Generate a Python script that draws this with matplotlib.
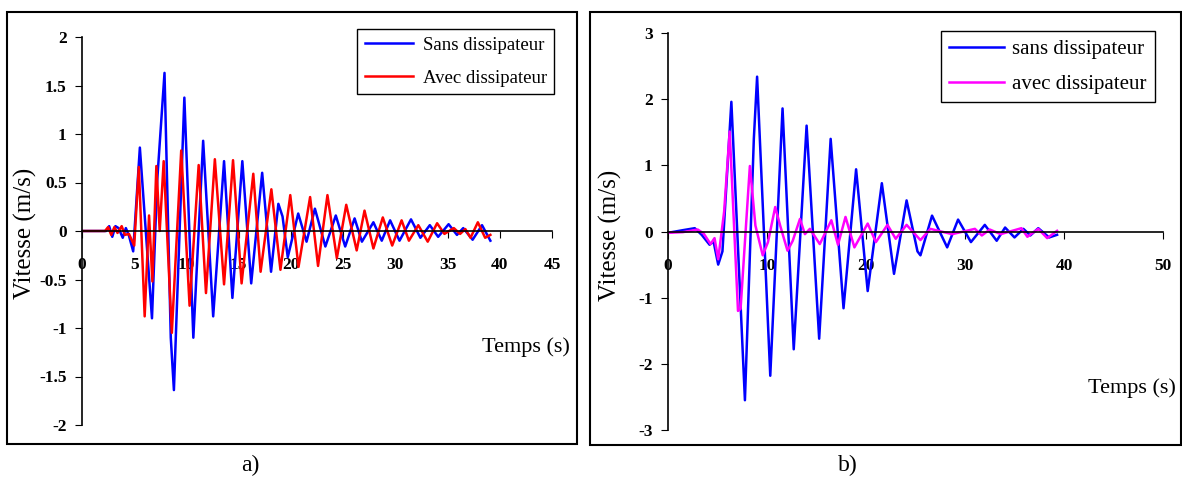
import numpy as np
import matplotlib
matplotlib.use("Agg")
import matplotlib.pyplot as plt
from matplotlib.patches import Rectangle

plt.rcParams['font.family'] = ['Liberation Serif', 'DejaVu Serif']

# panel a) (time s, velocity m/s)
t_a_sans = [0, 2.3, 2.6, 2.9, 3.2, 3.5, 3.9, 4.2, 4.5, 4.9, 5.54, 6.7, 7.2, 7.9, 8.5, 8.8,
            9.8, 10.66, 11.6, 12.56, 13.6, 14.4, 15.35, 16.2, 17.25, 18.1, 18.8, 19.2,
            19.7, 20.7, 21.5, 22.3, 23.3, 24.3, 25.2, 26.1, 26.8, 27.9, 28.7, 29.5,
            30.4, 31.5, 32.4, 33.3, 34.1, 35.1, 35.9, 36.5, 37.4, 38.3, 39.1]
v_a_sans = [0, 0, 0.05, -0.06, 0.05, 0.03, -0.07, 0.03, -0.05, -0.21, 0.86, -0.9, 0.52, 1.63, -1.1, -1.64,
            1.375, -1.1, 0.93, -0.88, 0.72, -0.69, 0.72, -0.54, 0.6, -0.42, 0.28, 0.15,
            -0.27, 0.18, -0.11, 0.23, -0.16, 0.16, -0.16, 0.13, -0.11, 0.09, -0.1, 0.11,
            -0.1, 0.12, -0.07, 0.06, -0.06, 0.07, -0.04, 0.03, -0.09, 0.06, -0.1]
t_a_avec = [0, 2.2, 2.5, 2.8, 3.1, 3.4, 3.8, 4.1, 4.5, 5.0, 5.44, 6.0, 6.42, 6.74, 7.12, 7.44,
            7.82, 8.6, 9.5, 10.3, 11.17, 11.87, 12.72, 13.6, 14.46, 15.28, 16.4, 17.1,
            18.13, 19.0, 19.94, 20.73, 21.84, 22.6, 23.5, 24.4, 25.3, 26.3, 27.05, 27.9,
            28.8, 29.7, 30.6, 31.3, 32.2, 33.1, 34.0, 34.7, 35.6, 36.2, 36.7, 37.2,
            37.9, 38.6, 39.1]
v_a_avec = [0, 0, 0.04, -0.04, 0.04, -0.02, 0.05, -0.04, -0.03, -0.15, 0.66, -0.88, 0.16, -0.52, 0.67, 0.0,
            0.72, -1.05, 0.83, -0.77, 0.68, -0.64, 0.74, -0.55, 0.73, -0.54, 0.59, -0.42,
            0.43, -0.4, 0.37, -0.37, 0.35, -0.36, 0.37, -0.28, 0.27, -0.2, 0.21, -0.18,
            0.14, -0.15, 0.11, -0.1, 0.06, -0.11, 0.08, -0.03, 0.03, -0.03, 0.02, -0.07,
            0.09, -0.07, -0.04]

# panel b)
t_b_sans = [0, 1.5, 2.7, 3.4, 4.2, 4.6, 5.07, 5.5, 6.4, 7.77, 8.67, 9.0, 10.33, 11.57, 12.7,
            14.0, 15.27, 16.43, 17.73, 19.0, 20.17, 21.6, 22.83, 24.1, 25.2, 25.5,
            26.67, 28.2, 29.3, 30.6, 32.0, 33.2, 34.05, 35.0, 35.9, 36.6, 37.4, 38.5, 39.3]
v_b_sans = [-0.02, 0.02, 0.05, -0.05, -0.2, -0.15, -0.5, -0.3, 1.96, -2.55, 1.4, 2.34, -2.18, 1.86, -1.78,
            1.6, -1.62, 1.4, -1.16, 0.94, -0.9, 0.73, -0.64, 0.47, -0.3, -0.36,
            0.24, -0.24, 0.18, -0.16, 0.1, -0.14, 0.06, -0.09, 0.04, -0.06, 0.05, -0.09, -0.05]
t_b_avec = [0, 1.5, 3.0, 3.6, 4.3, 4.7, 5.07, 5.67, 6.23, 7.07, 7.33, 8.27, 8.83, 9.57, 10.1,
            10.83, 11.33, 12.07, 12.6, 13.33, 13.83, 14.33, 15.33, 16.5, 17.17, 17.93,
            18.83, 20.17, 21.0, 22.17, 23.0, 24.1, 25.5, 26.5, 28.7, 31.0, 31.7, 32.5,
            33.6, 35.7, 36.3, 37.4, 38.3, 39.3]
v_b_avec = [-0.02, -0.01, 0.03, -0.03, -0.19, -0.1, -0.42, 0.3, 1.51, -1.2, -1.17, 0.99, 0.09, -0.36, -0.16,
            0.37, 0.09, -0.29, -0.14, 0.19, -0.04, 0.04, -0.19, 0.17, -0.2, 0.22,
            -0.24, 0.12, -0.16, 0.1, -0.11, 0.1, -0.13, 0.04, -0.04, 0.04, -0.06, 0.03,
            -0.04, 0.05, -0.08, 0.04, -0.1, 0.01]

W, H = 1182, 479
fig = plt.figure(figsize=(W / 100, H / 100), dpi=100)


def fx(px):
    return px / W


def fy(py):
    return 1 - py / H


def setup(ax, xmax, xstep, ymax, ystep):
    ax.set_xlim(0, xmax)
    ax.set_ylim(-ymax, ymax)
    ax.spines['top'].set_visible(False)
    ax.spines['right'].set_visible(False)
    ax.spines['bottom'].set_position(('data', 0))
    ax.spines['left'].set_linewidth(1.2)
    ax.spines['bottom'].set_linewidth(1.2)
    ax.set_xticks(np.arange(0, xmax + 0.1, xstep))
    ax.set_yticks(np.arange(-ymax, ymax + 0.01, ystep))
    ax.set_yticklabels([f"{v:g}" for v in ax.get_yticks()])
    ax.tick_params(axis='x', direction='out', length=5, pad=14, labelsize=12.5)
    ax.tick_params(axis='y', direction='out', length=5, pad=6, labelsize=12.5)
    for lb in ax.get_xticklabels() + ax.get_yticklabels():
        lb.set_fontweight('bold')
    ax.patch.set_alpha(0)


# panel a
ax1 = fig.add_axes([fx(82), fy(425), fx(552) - fx(82), fy(37) - fy(425)])
setup(ax1, 45, 5, 2, 0.5)
ax1.plot(t_a_sans, v_a_sans, color='#0000ff', lw=1.8, label='Sans dissipateur')
ax1.plot(t_a_avec, v_a_avec, color='#ff0000', lw=1.8, label='Avec dissipateur')
ax1.legend(loc='upper left', bbox_to_anchor=(fx(357), fy(29)), bbox_transform=fig.transFigure,
           borderaxespad=0, fancybox=False, edgecolor='black', framealpha=1, fontsize=13.5,
           handlelength=2.6, handletextpad=0.5, labelspacing=0.85).get_frame().set_linewidth(1.0)

# panel b
ax2 = fig.add_axes([fx(668), fy(430), fx(1163) - fx(668), fy(33) - fy(430)])
setup(ax2, 50, 10, 3, 1)
ax2.plot(t_b_sans, v_b_sans, color='#0000ff', lw=1.8, label='sans dissipateur')
ax2.plot(t_b_avec, v_b_avec, color='#ff00ff', lw=1.8, label='avec dissipateur')
ax2.legend(loc='upper left', bbox_to_anchor=(fx(941), fy(31)), bbox_transform=fig.transFigure,
           borderaxespad=0, fancybox=False, edgecolor='black', framealpha=1, fontsize=15,
           handlelength=2.6, handletextpad=0.4, labelspacing=0.75).get_frame().set_linewidth(1.0)

# axis titles
fig.text(fx(25), fy(233), 'Vitesse (m/s)', rotation=90, ha='center', va='center', fontsize=18)
fig.text(fx(526), fy(347), 'Temps (s)', ha='center', va='center', fontsize=16)
fig.text(fx(610), fy(235), 'Vitesse (m/s)', rotation=90, ha='center', va='center', fontsize=18)
fig.text(fx(1132), fy(388), 'Temps (s)', ha='center', va='center', fontsize=16)

# panel frames and captions
fig.patches.append(Rectangle((fx(7), fy(444)), fx(577) - fx(7), fy(12) - fy(444), fill=False,
                             edgecolor='black', lw=1.5, transform=fig.transFigure))
fig.patches.append(Rectangle((fx(590), fy(445)), fx(1181) - fx(590), fy(12) - fy(445), fill=False,
                             edgecolor='black', lw=1.5, transform=fig.transFigure))
fig.text(fx(250), fy(465), 'a)', ha='center', va='center', fontsize=17)
fig.text(fx(848), fy(465), 'b)', ha='center', va='center', fontsize=17)

fig.savefig('out.png', dpi=100)
